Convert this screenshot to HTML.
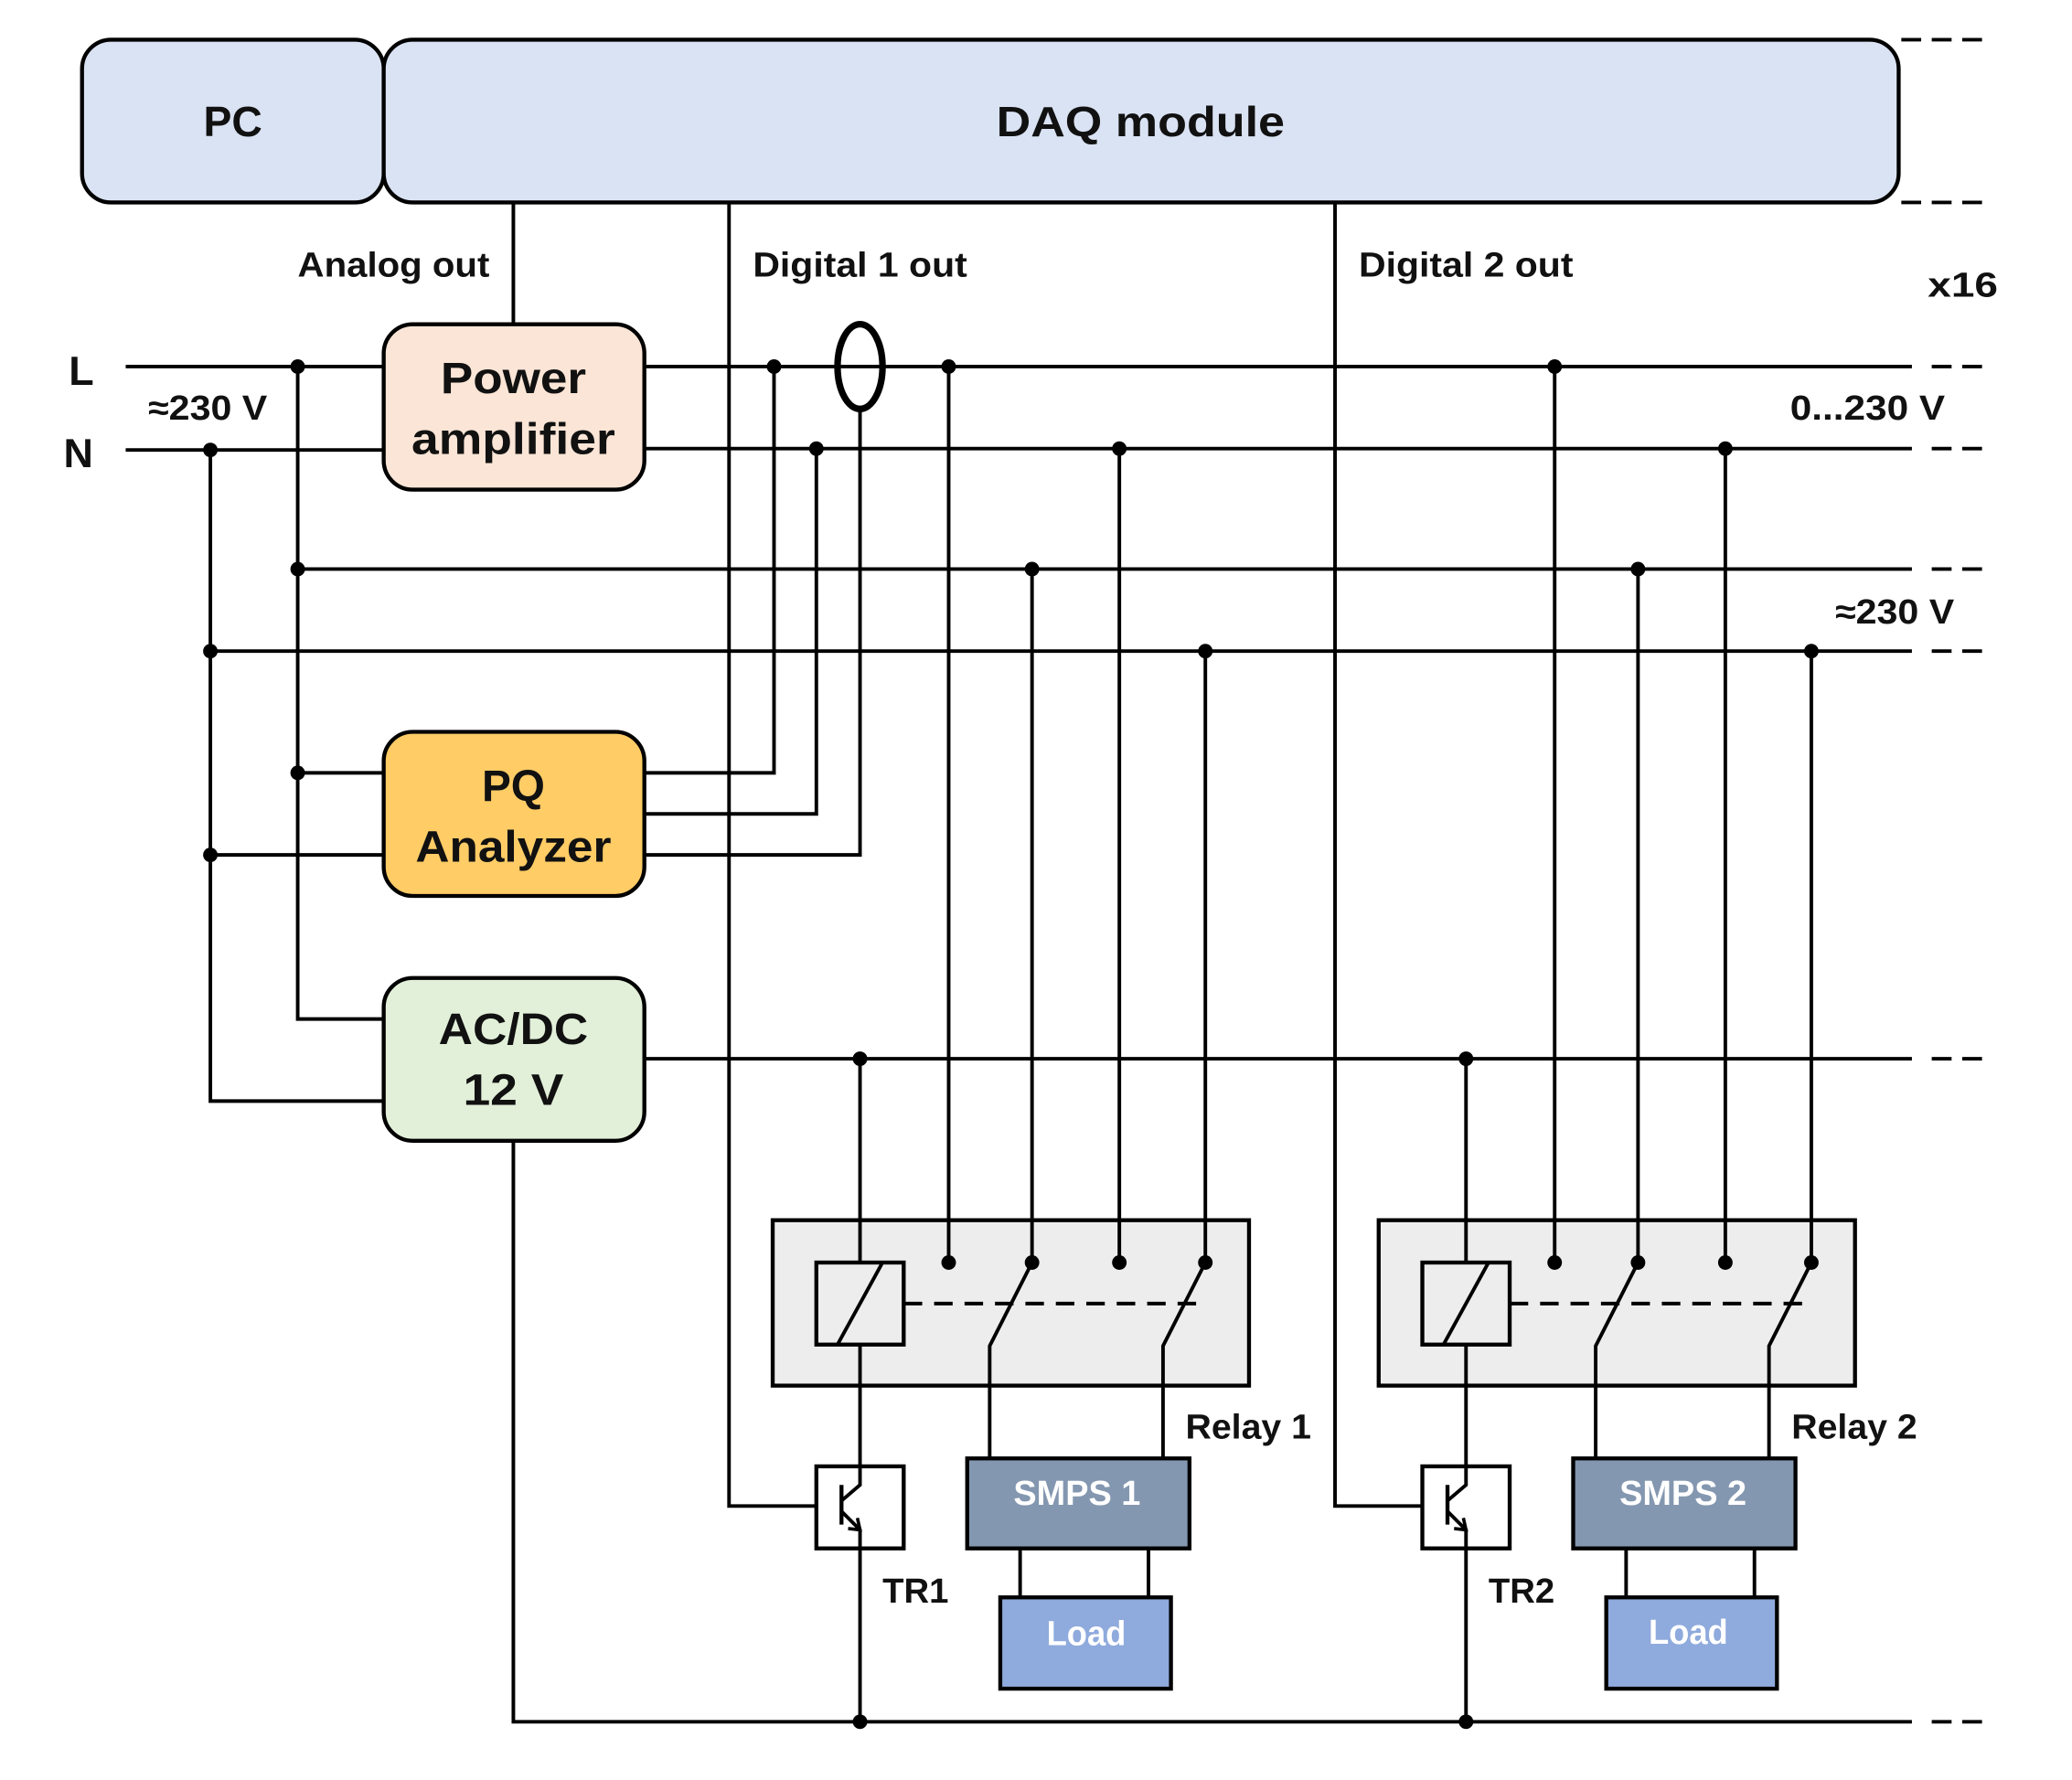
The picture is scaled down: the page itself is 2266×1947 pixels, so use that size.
<!DOCTYPE html>
<html><head><meta charset="utf-8"><style>
html,body{margin:0;padding:0;background:#fff;}
svg{display:block;}
text{font-family:"Liberation Sans",sans-serif;font-weight:bold;fill:#111;}
</style></head><body>
<svg width="2266" height="1947" viewBox="0 0 1566 1345" preserveAspectRatio="none" xmlns="http://www.w3.org/2000/svg">
<g stroke="#000" stroke-width="2.7" fill="none">
<rect x="62" y="30" width="228" height="123" rx="22" fill="#dae3f3" stroke-width="3"/>
<rect x="290" y="30" width="1145" height="123" rx="22" fill="#dae3f3" stroke-width="3"/>
<g stroke-dasharray="15,8">
<line x1="1437" y1="30" x2="1500" y2="30"/>
<line x1="1437" y1="153" x2="1500" y2="153"/>
<line x1="1460" y1="277" x2="1500" y2="277"/>
<line x1="1460" y1="339" x2="1500" y2="339"/>
<line x1="1460" y1="430" x2="1500" y2="430"/>
<line x1="1460" y1="492" x2="1500" y2="492"/>
<line x1="1460" y1="800" x2="1500" y2="800"/>
<line x1="1460" y1="1301" x2="1500" y2="1301"/>
</g>
<line x1="388" y1="153" x2="388" y2="245"/>
<polyline points="551,153 551,1138 630,1138"/>
<polyline points="1009,153 1009,1138 1088,1138"/>
<line x1="95" y1="277" x2="290" y2="277"/>
<line x1="95" y1="340" x2="290" y2="340"/>
<polyline points="225,277 225,770 290,770"/>
<polyline points="159,340 159,832 290,832"/>
<line x1="225" y1="584" x2="290" y2="584"/>
<line x1="159" y1="646" x2="290" y2="646"/>
<line x1="487" y1="277" x2="1445" y2="277"/>
<line x1="487" y1="339" x2="1445" y2="339"/>
<line x1="225" y1="430" x2="1445" y2="430"/>
<line x1="159" y1="492" x2="1445" y2="492"/>
<line x1="487" y1="800" x2="1445" y2="800"/>
<polyline points="388,862 388,1301 1445,1301"/>
<polyline points="487,584 585,584 585,277"/>
<polyline points="487,615 617,615 617,339"/>
<polyline points="487,646 650,646 650,309"/>
<ellipse cx="650" cy="277" rx="17" ry="32" stroke-width="5"/>
<rect x="290" y="245" width="197" height="125" rx="22" fill="#fbe5d6" stroke-width="3"/>
<rect x="290" y="553" width="197" height="124" rx="22" fill="#ffcc66" stroke-width="3"/>
<rect x="290" y="739" width="197" height="123" rx="22" fill="#e2f0d9" stroke-width="3"/>
<g id="relay">
<rect x="584" y="922" width="360" height="125" fill="#ededed" stroke-width="3"/>
<line x1="650" y1="800" x2="650" y2="1108"/>
<rect x="617" y="954" width="66" height="62" fill="#ededed" stroke-width="3"/>
<line x1="633" y1="1016" x2="667" y2="954"/>
<line x1="683" y1="985" x2="913" y2="985" stroke-dasharray="14,9"/>
<line x1="717" y1="277" x2="717" y2="954"/>
<line x1="780" y1="430" x2="780" y2="954"/>
<line x1="846" y1="339" x2="846" y2="954"/>
<line x1="911" y1="492" x2="911" y2="954"/>
<polyline points="780,954 748,1017 748,1102"/>
<polyline points="911,954 879,1017 879,1102"/>
<rect x="617" y="1108" width="66" height="62" fill="#fff" stroke-width="3"/>
<line x1="636" y1="1122" x2="636" y2="1152" stroke-width="3"/>
<polyline points="636,1134 650,1122 650,1108"/>
<polyline points="636,1142 650,1156 650,1301"/>
<polyline points="641,1155 650,1156 648,1147" stroke-width="2.5"/>
<rect x="731" y="1102" width="168" height="68" fill="#8497b0" stroke-width="3"/>
<line x1="771" y1="1170" x2="771" y2="1207"/>
<line x1="868" y1="1170" x2="868" y2="1207"/>
<rect x="756" y="1207" width="129" height="69" fill="#8faadc" stroke-width="3"/>
</g>
<use href="#relay" transform="translate(458,0)"/>
</g>
<g fill="#000">
<circle cx="225" cy="277" r="5.5"/><circle cx="159" cy="340" r="5.5"/>
<circle cx="225" cy="430" r="5.5"/><circle cx="159" cy="492" r="5.5"/>
<circle cx="225" cy="584" r="5.5"/><circle cx="159" cy="646" r="5.5"/>
<circle cx="585" cy="277" r="5.5"/><circle cx="717" cy="277" r="5.5"/><circle cx="1175" cy="277" r="5.5"/>
<circle cx="617" cy="339" r="5.5"/><circle cx="846" cy="339" r="5.5"/><circle cx="1304" cy="339" r="5.5"/>
<circle cx="780" cy="430" r="5.5"/><circle cx="1238" cy="430" r="5.5"/>
<circle cx="911" cy="492" r="5.5"/><circle cx="1369" cy="492" r="5.5"/>
<circle cx="650" cy="800" r="5.5"/><circle cx="1108" cy="800" r="5.5"/>
<circle cx="650" cy="1301" r="5.5"/><circle cx="1108" cy="1301" r="5.5"/>
<circle cx="717" cy="954" r="5.5"/><circle cx="780" cy="954" r="5.5"/><circle cx="846" cy="954" r="5.5"/><circle cx="911" cy="954" r="5.5"/>
<circle cx="1175" cy="954" r="5.5"/><circle cx="1238" cy="954" r="5.5"/><circle cx="1304" cy="954" r="5.5"/><circle cx="1369" cy="954" r="5.5"/>
</g>
<text x="176" y="103" font-size="32" text-anchor="middle">PC</text>
<text x="862" y="103" font-size="32" text-anchor="middle" textLength="218" lengthAdjust="spacingAndGlyphs">DAQ module</text>
<text x="225" y="209" font-size="26" textLength="145" lengthAdjust="spacingAndGlyphs">Analog out</text>
<text x="569" y="209" font-size="26" textLength="162" lengthAdjust="spacingAndGlyphs">Digital 1 out</text>
<text x="1027" y="209" font-size="26" textLength="162" lengthAdjust="spacingAndGlyphs">Digital 2 out</text>
<text x="1457" y="224" font-size="26" textLength="53" lengthAdjust="spacingAndGlyphs">x16</text>
<text x="52" y="291" font-size="31">L</text>
<text x="48" y="353" font-size="31">N</text>
<text x="112" y="317" font-size="26" textLength="90" lengthAdjust="spacingAndGlyphs">≈230 V</text>
<text x="1353" y="317" font-size="26" textLength="117" lengthAdjust="spacingAndGlyphs">0...230 V</text>
<text x="1387" y="471" font-size="26" textLength="90" lengthAdjust="spacingAndGlyphs">≈230 V</text>
<text x="388" y="297" font-size="33" text-anchor="middle" textLength="110" lengthAdjust="spacingAndGlyphs">Power</text>
<text x="388" y="343" font-size="33" text-anchor="middle" textLength="154" lengthAdjust="spacingAndGlyphs">amplifier</text>
<text x="388" y="605" font-size="33" text-anchor="middle">PQ</text>
<text x="388" y="651" font-size="33" text-anchor="middle" textLength="148" lengthAdjust="spacingAndGlyphs">Analyzer</text>
<text x="388" y="789" font-size="33" text-anchor="middle" textLength="113" lengthAdjust="spacingAndGlyphs">AC/DC</text>
<text x="388" y="835" font-size="33" text-anchor="middle" textLength="76" lengthAdjust="spacingAndGlyphs">12 V</text>
<text x="896" y="1087" font-size="26" textLength="95" lengthAdjust="spacingAndGlyphs">Relay 1</text>
<text x="1354" y="1087" font-size="26" textLength="95" lengthAdjust="spacingAndGlyphs">Relay 2</text>
<text x="667" y="1211" font-size="26" textLength="50" lengthAdjust="spacingAndGlyphs">TR1</text>
<text x="1125" y="1211" font-size="26" textLength="50" lengthAdjust="spacingAndGlyphs">TR2</text>
<text x="814" y="1137" font-size="26" text-anchor="middle" style="fill:#fff" textLength="96" lengthAdjust="spacingAndGlyphs">SMPS 1</text>
<text x="1272" y="1137" font-size="26" text-anchor="middle" style="fill:#fff" textLength="96" lengthAdjust="spacingAndGlyphs">SMPS 2</text>
<text x="821" y="1243" font-size="26" text-anchor="middle" style="fill:#fff" textLength="60" lengthAdjust="spacingAndGlyphs">Load</text>
<text x="1276" y="1242" font-size="26" text-anchor="middle" style="fill:#fff" textLength="60" lengthAdjust="spacingAndGlyphs">Load</text>
</svg>
</body></html>
